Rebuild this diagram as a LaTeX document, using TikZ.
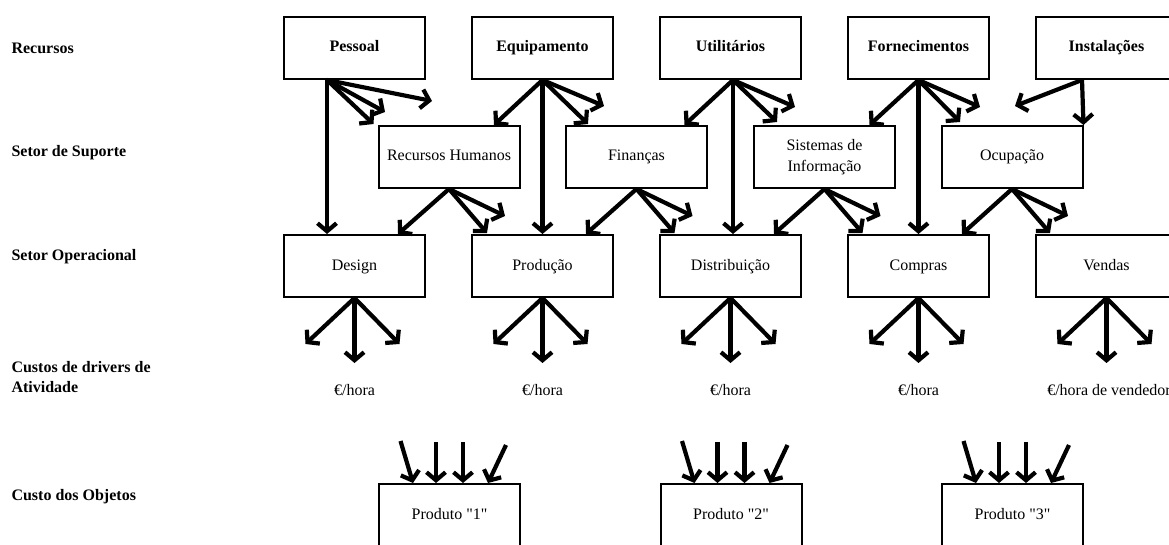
\documentclass[tikz,border=0pt]{standalone}
\usepackage{fontspec}
\setmainfont{Liberation Serif}
\usetikzlibrary{arrows.meta,calc}
\begin{document}
\begin{tikzpicture}[x=1pt,y=-1pt,
  boxbase/.style={draw,line width=2pt,minimum width=141pt,minimum height=62pt,inner sep=0pt,align=center,font=\fontsize{16}{21}\selectfont},
  box/.style={boxbase,text height=11pt,text depth=3pt},
  bbox/.style={box,font=\fontsize{16}{21}\selectfont\bfseries},
  lab/.style={anchor=west,align=left,font=\fontsize{16}{20}\selectfont\bfseries},
  drv/.style={font=\fontsize{16}{18}\selectfont},
  arr/.style={line width=4.2pt,-{Straight Barb[length=8pt 0 0,width=19pt 0 0,line cap=butt]}}]
\useasboundingbox (0,0) rectangle (1169,545);
\clip (0,0) rectangle (1169,545);
% row labels
\node[lab] (l1) at (8,48) {Recursos};
\node[lab] (l2) at (8,153) {Setor de Suporte};
\node[lab] (l3) at (8,257) {Setor Operacional};
\node[lab] (l4) at (8,377) {Custos de drivers de\\Atividade};
\node[lab] (l5) at (8,497) {Custo dos Objetos};
% resources
\node[bbox] (pes) at (354.5,48) {Pessoal};
\node[bbox] (equ) at (542.5,48) {Equipamento};
\node[bbox] (uti) at (730.5,48) {Utilitários};
\node[bbox] (for) at (918.5,48) {Fornecimentos};
\node[bbox] (ins) at (1106.5,48) {Instalações};
% support
\node[box] (rh) at (449,157) {Recursos Humanos};
\node[box] (fin) at (636.5,157) {Finanças};
\node[boxbase] (si) at (824.5,157) {Sistemas de\\Informação};
\node[box] (ocu) at (1012,157) {Ocupação};
% operational
\node[box] (des) at (354.5,266) {Design};
\node[box] (pro) at (542.5,266) {Produção};
\node[box] (dis) at (730.5,266) {Distribuição};
\node[box] (com) at (918.5,266) {Compras};
\node[box] (ven) at (1106.5,266) {Vendas};
% drivers
\node[drv] (d1) at (354.5,390) {€/hora};
\node[drv] (d2) at (542.5,390) {€/hora};
\node[drv] (d3) at (730.5,390) {€/hora};
\node[drv] (d4) at (918.5,390) {€/hora};
\node[drv] (d5) at (1109,390) {€/hora de vendedor};
% products
\node[box] (p1) at (449.5,515) {Produto \textquotedbl 1\textquotedbl};
\node[box] (p2) at (731,515) {Produto \textquotedbl 2\textquotedbl};
\node[box] (p3) at (1012.5,515) {Produto \textquotedbl 3\textquotedbl};
% free ends resources -> support
\coordinate (a1) at (385,112); \coordinate (a2) at (432,101);
\coordinate (b1) at (588,124); \coordinate (b2) at (604,106);
\coordinate (c1) at (777,122); \coordinate (c2) at (795,107);
\coordinate (e1) at (960,122); \coordinate (e2) at (980,107);
\coordinate (f1) at (1015,106);
% resources arrows
\draw[arr] ($(pes.south)+(-27.5,0)$) -- ($(des.north)+(-27.5,0)$);
\draw[arr] ($(pes.south)+(-27.5,0)$) -- ($(rh.north west)+(-4,-1)$);
\draw[arr] ($(pes.south)+(-27.5,0)$) -- (a1);
\draw[arr] ($(pes.south)+(-27.5,0)$) -- (a2);
\draw[arr] (equ.south) -- ($(rh.north)+(45,0)$);
\draw[arr] (equ.south) -- (pro.north);
\draw[arr] (equ.south) -- (b1);
\draw[arr] (equ.south) -- (b2);
\draw[arr] ($(uti.south)+(2.5,0)$) -- ($(fin.north)+(48,0)$);
\draw[arr] ($(uti.south)+(2.5,0)$) -- ($(dis.north)+(2.5,0)$);
\draw[arr] ($(uti.south)+(2.5,0)$) -- (c1);
\draw[arr] ($(uti.south)+(2.5,0)$) -- (c2);
\draw[arr] (for.south) -- ($(si.north)+(45,0)$);
\draw[arr] (for.south) -- (com.north);
\draw[arr] (for.south) -- (e1);
\draw[arr] (for.south) -- (e2);
\draw[arr] ($(ins.south)+(-24.5,0)$) -- (f1);
\draw[arr] ($(ins.south)+(-24.5,0)$) -- (ocu.north east);
% support -> operational
\foreach \s/\t/\n in {rh/des/g, fin/pro/h, si/dis/i, ocu/com/j}{
  \coordinate (\n1) at ($(\s.south)+(38,44)$);
  \coordinate (\n2) at ($(\s.south)+(56,27)$);
  \draw[arr] (\s.south) -- ($(\t.north)+(43.5,0)$);
  \draw[arr] (\s.south) -- (\n1);
  \draw[arr] (\s.south) -- (\n2);
}
% operational -> drivers
\foreach \s in {des,pro,dis,com,ven}{
  \coordinate (\s L) at ($(\s.south)+(-49,46)$);
  \coordinate (\s M) at ($(\s.south)+(0,65)$);
  \coordinate (\s R) at ($(\s.south)+(45,46)$);
  \draw[arr] (\s.south) -- (\s L);
  \draw[arr] (\s.south) -- (\s M);
  \draw[arr] (\s.south) -- (\s R);
}
% into products
\foreach \p in {p1,p2,p3}{
  \coordinate (\p a) at ($(\p.north)+(-49,-42)$);
  \coordinate (\p b) at ($(\p.north)+(-13.5,-41)$);
  \coordinate (\p c) at ($(\p.north)+(13.5,-41)$);
  \coordinate (\p d) at ($(\p.north)+(56.5,-38)$);
  \draw[arr] (\p a) -- ($(\p.north)+(-36.5,0)$);
  \draw[arr] (\p b) -- ($(\p.north)+(-13.5,0)$);
  \draw[arr] (\p c) -- ($(\p.north)+(13.5,0)$);
  \draw[arr] (\p d) -- ($(\p.north)+(38.5,0)$);
}
\end{tikzpicture}
\end{document}
